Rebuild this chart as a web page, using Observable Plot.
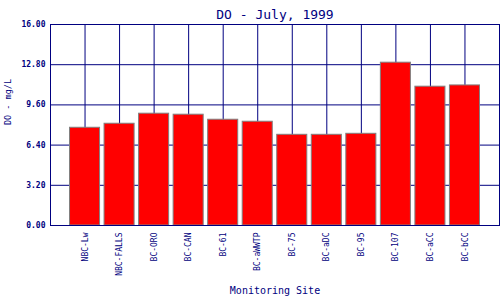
<!DOCTYPE html>
<html>
<head>
<meta charset="utf-8">
<script src="https://cdn.jsdelivr.net/npm/d3@7"></script>
<script src="https://cdn.jsdelivr.net/npm/@observablehq/plot@0.6"></script>
<style>
  html, body { margin: 0; padding: 0; background: #ffffff; }
  #chart svg { display: block; }
</style>
</head>
<body>
<div id="chart"></div>
<script>
const sites = ["NBC-Lw", "NBC-FALLS", "BC-ORO", "BC-CAN", "BC-61", "BC-aWWTP", "BC-75", "BC-aDC", "BC-95", "BC-107", "BC-aCC", "BC-bCC"];
const values = [7.78, 8.10, 8.90, 8.82, 8.42, 8.26, 7.22, 7.22, 7.30, 12.96, 11.05, 11.15];
const yTicks = [0, 3.2, 6.4, 9.6, 12.8, 16];
const title = "DO - July, 1999";
const xTitle = "Monitoring Site";
const yTitle = "DO - mg/L";

const data = sites.map((s, i) => ({site: s, value: values[i]}));
const navy = "#000080";
const mono = "'DejaVu Sans Mono', 'Liberation Mono', monospace";

const chart = Plot.plot({
  width: 500,
  height: 300,
  marginTop: 24,
  marginLeft: 50,
  marginRight: 1,
  marginBottom: 75,
  style: {fontFamily: mono, color: navy, background: "#ffffff"},
  x: {domain: sites, paddingInner: 0.13, paddingOuter: 0.565, round: false},
  y: {domain: [0, 16]},
  marks: [
    Plot.gridX(sites, {stroke: navy, strokeOpacity: 1, strokeWidth: 1}),
    Plot.gridY(yTicks, {stroke: navy, strokeOpacity: 1, strokeWidth: 1}),
    Plot.barY(data, {x: "site", y: "value", fill: "#ff0000", stroke: "#808080", strokeWidth: 1}),
    Plot.frame({stroke: navy, strokeWidth: 1}),
    Plot.axisY(yTicks, {tickFormat: d3.format(".2f"), tickSize: 0, tickPadding: 5, fontSize: 8, fontWeight: "bold", fill: navy, label: null}),
    Plot.axisX({tickRotate: -90, tickSize: 0, tickPadding: 7, fontSize: 8, fill: navy, label: null}),
    Plot.text([title], {frameAnchor: "top", dy: -15, fontSize: 13, fill: navy}),
    Plot.text([xTitle], {frameAnchor: "bottom", dy: 68, fontSize: 10, fill: navy}),
    Plot.text([yTitle], {frameAnchor: "left", dx: -42.5, rotate: -90, fontSize: 8.5, fill: navy})
  ]
});
document.getElementById("chart").appendChild(chart);
</script>
</body>
</html>
